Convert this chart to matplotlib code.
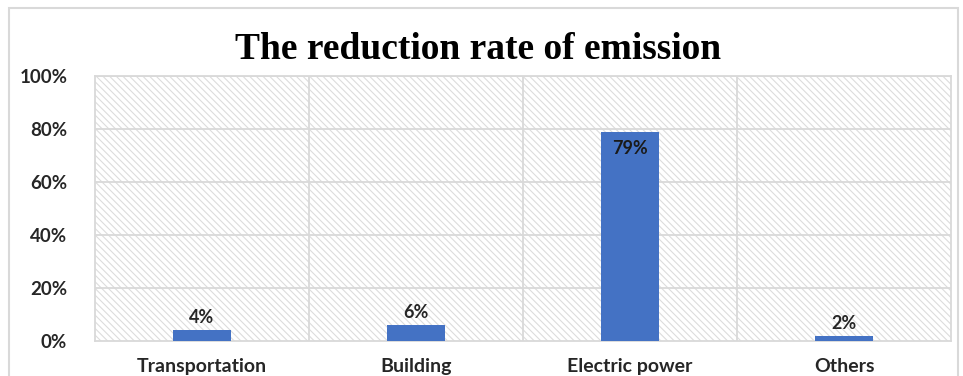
import matplotlib
matplotlib.use('Agg')
import matplotlib.pyplot as plt
from matplotlib.patches import Rectangle
from matplotlib.ticker import FuncFormatter

categories = ['Transportation', 'Building', 'Electric power', 'Others']
rates = [0.04, 0.06, 0.79, 0.02]
labels = ['4%', '6%', '79%', '2%']

plt.rcParams['hatch.color'] = '#dcdcdc'
plt.rcParams['hatch.linewidth'] = 0.8

fig = plt.figure(figsize=[9.63, 3.76], dpi=100)
# outer chart frame
fig.patches.append(Rectangle((9 / 963, -0.05), 949 / 963, 1.05 - 8 / 376,
                             transform=fig.transFigure, fill=False,
                             edgecolor='#d9d9d9', linewidth=1.5))

ax = fig.add_axes([95 / 963, 35 / 376, 856 / 963, 265 / 376])
# hatched plot background
ax.add_patch(Rectangle((0, 0), 1, 1, transform=ax.transAxes, facecolor='white',
                       edgecolor='#dcdcdc', linewidth=0, hatch='\\\\\\\\\\',
                       zorder=0))

x = range(len(categories))
ax.bar(x, rates, width=0.27, color='#4472c4', zorder=3)

ax.set_xlim(-0.5, 3.5)
ax.set_ylim(0, 1)
ax.set_yticks([0, 0.2, 0.4, 0.6, 0.8, 1.0])
ax.yaxis.set_major_formatter(FuncFormatter(lambda v, p: '%d%%' % round(v * 100)))
ax.set_xticks(list(x))
ax.set_xticklabels(categories)

# gridlines: horizontal at ticks, vertical at category boundaries
for v in [0.2, 0.4, 0.6, 0.8, 1.0]:
    ax.axhline(v, color='#d9d9d9', linewidth=1.3, zorder=1)
for b in [0.5, 1.5, 2.5]:
    ax.axvline(b, color='#d9d9d9', linewidth=1.3, zorder=1)

for s in ['top', 'right', 'left', 'bottom']:
    ax.spines[s].set_color('#d9d9d9')
    ax.spines[s].set_linewidth(1.3)

ax.tick_params(length=0)
ax.tick_params(axis='y', pad=20)
ax.tick_params(axis='x', pad=12)
for t in ax.get_yticklabels():
    t.set_fontfamily('Lato')
    t.set_fontsize(13.5)
    t.set_fontweight('bold')
    t.set_color('#262626')
for t in ax.get_xticklabels():
    t.set_fontfamily('Lato')
    t.set_fontsize(14)
    t.set_fontweight('bold')
    t.set_color('#262626')

for i, (v, lab) in enumerate(zip(rates, labels)):
    if v > 0.3:
        ax.text(i, v - 0.03, lab, ha='center', va='top', fontsize=13,
                fontfamily='Lato', fontweight='bold', color='#1a1a1a', zorder=4)
    else:
        ax.text(i, v + 0.015, lab, ha='center', va='bottom', fontsize=13,
                fontfamily='Lato', fontweight='bold', color='#262626', zorder=4)

fig.text(0.496, 0.869, 'The reduction rate of emission', ha='center', va='center',
         fontsize=27, fontweight='bold', fontfamily='Liberation Serif')

fig.savefig('out.png', dpi=100)
